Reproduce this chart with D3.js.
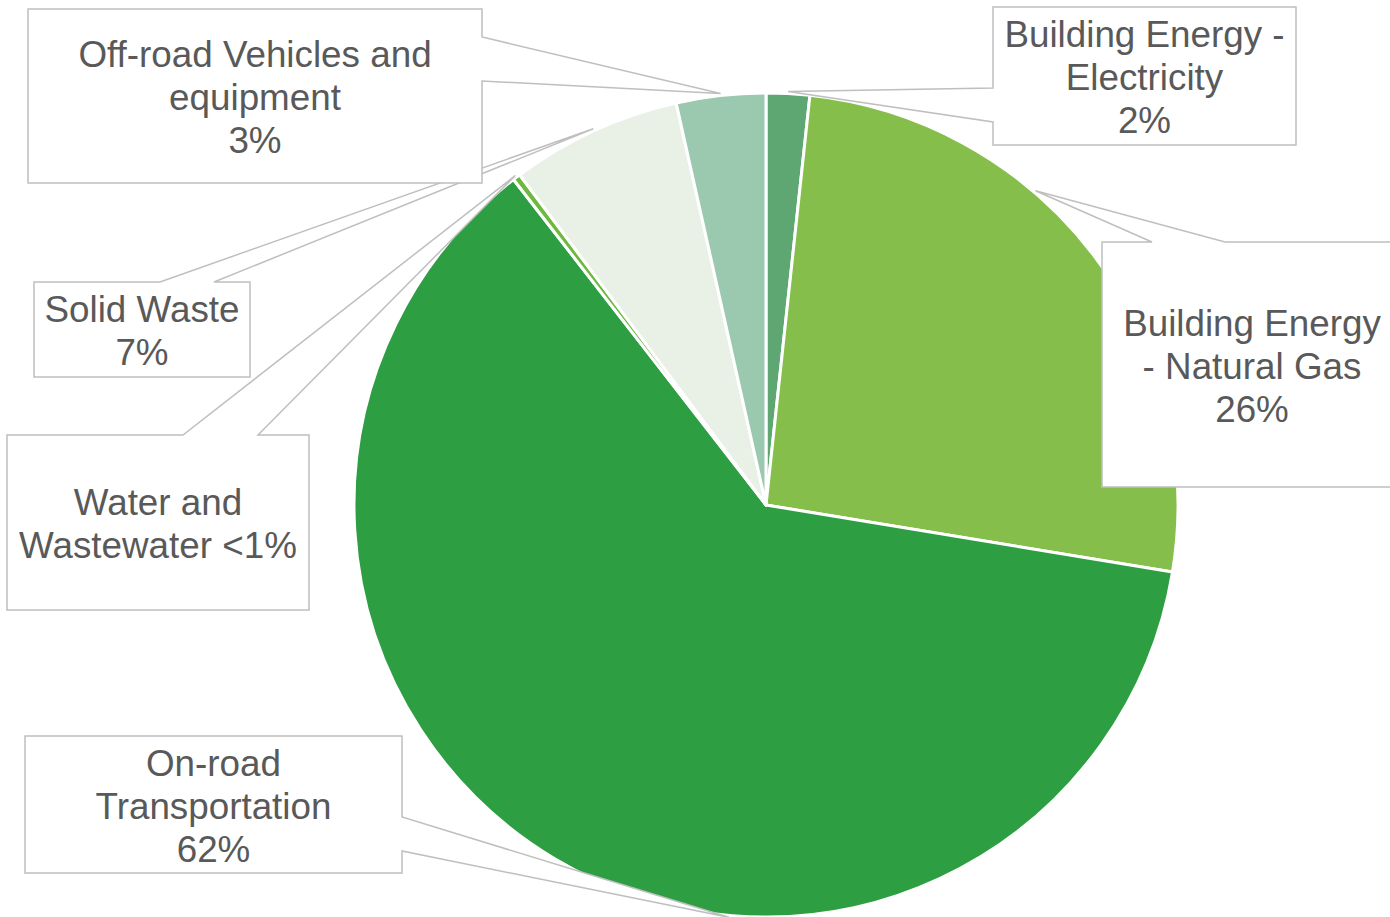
<!DOCTYPE html>
<html>
<head>
<meta charset="utf-8">
<script src="https://cdn.jsdelivr.net/npm/d3@7"></script>
<style>
  body { margin: 0; background: #fff; }
  svg { display: block; }
</style>
</head>
<body>
<div id="chart"></div>
<script>
// emissions share by sector, clockwise from 12 o'clock
const categories = ["Building Energy - Electricity", "Building Energy - Natural Gas", "On-road Transportation",
  "Water and Wastewater", "Solid Waste", "Off-road Vehicles and equipment"];
const values = [1.7, 25.9, 61.9, 0.3, 6.7, 3.5];
const pctLabels = ["2%", "26%", "62%", "<1%", "7%", "3%"];
const colors = ["#5ea772", "#86be4c", "#2d9e42", "#6cb93c", "#e9f1e7", "#9bc9b0"];

// how each label is wrapped, as in the original
const labelLines = [
  ["Building Energy -", "Electricity", "2%"],
  ["Building Energy", "- Natural Gas", "26%"],
  ["On-road", "Transportation", "62%"],
  ["Water and", "Wastewater <1%"],
  ["Solid Waste", "7%"],
  ["Off-road Vehicles and", "equipment", "3%"]
];

// callout boxes: box, side the pointer leaves from, pointer base, where along the slice the tip sits
const callouts = [
  {x: 993, y: 7, w: 303, h: 138, side: "left", base: [88, 122], t: 0.5},
  {x: 1102, y: 242, w: 300, h: 245, side: "top", base: [1152, 1225], t: 0.37},
  {x: 25, y: 736, w: 377, h: 137, side: "right", base: [817, 851], t: 0.385},
  {x: 7, y: 435, w: 302, h: 175, side: "top", base: [183, 258], t: 0.5},
  {x: 34, y: 282, w: 216, h: 95, side: "top", base: [160, 214], t: 0.5},
  {x: 28, y: 9, w: 454, h: 174, side: "right", base: [37, 81], t: 0.5}
];

const width = 1390, height = 917;
const cx = 766, cy = 505, radius = 412;

const svg = d3.select("#chart").append("svg")
  .attr("width", width)
  .attr("height", height);

const data = categories.map((c, i) => ({name: c, value: values[i], i: i}));

const pie = d3.pie().sort(null).value(d => d.value);
const arcs = pie(data);
const arc = d3.arc().innerRadius(0).outerRadius(radius);

const g = svg.append("g").attr("transform", `translate(${cx},${cy})`);

g.selectAll("path.slice")
  .data(arcs)
  .enter()
  .append("path")
    .attr("class", "slice")
    .attr("d", arc)
    .attr("fill", d => colors[d.data.i])
    .attr("stroke", "#fff")
    .attr("stroke-width", 3)
    .attr("stroke-linejoin", "round");

// build the callout outline (box + pointer) as one polygon
function calloutPath(c, tip) {
  const x0 = c.x, y0 = c.y, x1 = c.x + c.w, y1 = c.y + c.h;
  let pts;
  if (c.side == "top") {
    pts = [[x0, y0], [c.base[0], y0], tip, [c.base[1], y0], [x1, y0], [x1, y1], [x0, y1]];
  } else if (c.side == "right") {
    pts = [[x0, y0], [x1, y0], [x1, c.base[0]], tip, [x1, c.base[1]], [x1, y1], [x0, y1]];
  } else {
    pts = [[x0, y0], [x1, y0], [x1, y1], [x0, y1], [x0, c.base[1]], tip, [x0, c.base[0]]];
  }
  return "M" + pts.map(p => p.join(",")).join("L") + "Z";
}

const labels = svg.selectAll("g.callout")
  .data(arcs)
  .enter()
  .append("g")
    .attr("class", "callout");

labels.append("path")
  .attr("d", d => {
    const c = callouts[d.data.i];
    const a = d.startAngle + c.t * (d.endAngle - d.startAngle);
    const r = radius + 2;
    const tip = [cx + r * Math.sin(a), cy - r * Math.cos(a)];
    return calloutPath(c, tip);
  })
  .attr("fill", "#fff")
  .attr("stroke", "#bfbfbf")
  .attr("stroke-width", 1.5);

const fontSize = 36.8, lineH = 43;

labels.each(function(d) {
  const c = callouts[d.data.i];
  const lines = labelLines[d.data.i];
  const midY = c.y + c.h / 2 + 1.5;
  const firstY = midY - (lines.length - 1) * lineH / 2;
  const txt = d3.select(this).append("text")
    .attr("text-anchor", "middle")
    .attr("font-family", "'Liberation Sans', Arial, sans-serif")
    .attr("font-size", fontSize)
    .attr("fill", "#595959");
  lines.forEach((l, k) => {
    txt.append("tspan")
      .attr("x", c.x + c.w / 2)
      .attr("y", firstY + k * lineH)
      .attr("dy", "0.35em")
      .text(l);
  });
});
</script>
</body>
</html>
